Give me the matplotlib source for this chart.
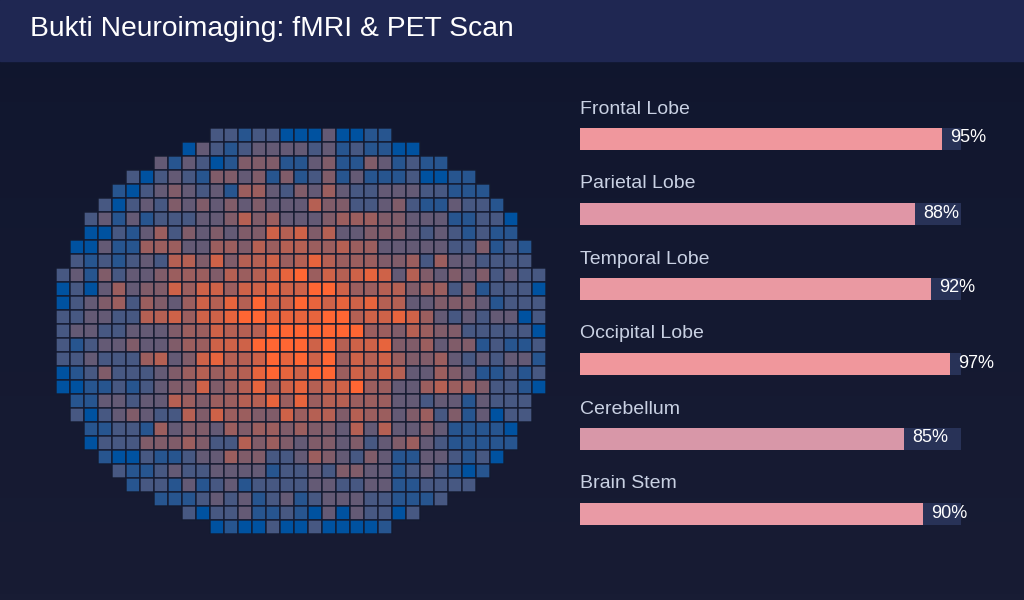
import numpy as np
import matplotlib
matplotlib.use('Agg')
import matplotlib.pyplot as plt
from matplotlib.colors import LinearSegmentedColormap

plt.rcParams['font.family'] = ['Liberation Sans', 'DejaVu Sans']

# Judul
TITLE = 'Bukti Neuroimaging: fMRI & PET Scan'

# Data bar: wilayah otak dan persentase
regions = ['Frontal Lobe', 'Parietal Lobe', 'Temporal Lobe', 'Occipital Lobe', 'Cerebellum', 'Brain Stem']
percent = [95, 88, 92, 97, 85, 90]
bar_colors = ['#f0979d', '#e096a6', '#ea99a2', '#f0979c', '#d897a8', '#e99aa5']

# Data heatmap: kolom awal tiap baris dan intensitas (0-9) per sel
row_start = [11, 9, 7, 5, 4, 3, 2, 2, 1, 1, 0, 0, 0, 0, 0, 0, 0, 0, 0, 1, 1, 2, 2, 3, 4, 5, 7, 9, 11]
rows = [
    '2212200030011',
    '03212333323121100',
    '313201444113411431211',
    '2023214434141241311120011',
    '102343231553243532233322111',
    '20232434343433364422342113221',
    '2313122233464533345554433311220',
    '0021352434344767463344432321211',
    '003115553355465665565533333224121',
    '212123266474667568655544525332222',
    '23142334555465678957678736434342322',
    '02035344757757787799755664552412220',
    '02345254357686977987878663344431222',
    '22332266757789988889967787532323302',
    '23322333455766699999995546544222220',
    '21233433455777999979677844534412112',
    '22322256347866798979576754453232331',
    '01242223456566898799576763354311212',
    '00112123447456857867795533565542210',
    '113323365455668585665553323313222',
    '202343226475544756646553452413022',
    '1122153443545545443636334311110',
    '0222444542264543443423453211111',
    '10021123354422354324311332120',
    '211232233331223244331232101',
    '1221312312222332233112222',
    '111232312312333221112',
    '20223112103032202',
    '0100200200001',
]

NCOL = 35
grid = np.full((len(rows), NCOL), np.nan)
for r, (s, txt) in enumerate(zip(row_start, rows)):
    for i, ch in enumerate(txt):
        grid[r, s + i] = (int(ch) / 9.0) ** 0.85

W, H = 1024, 600
fig = plt.figure(figsize=(W / 100, H / 100), dpi=100)

# Latar belakang gradasi
bg = fig.add_axes([0, 0, 1, 1])
grad = np.linspace(0, 1, 100).reshape(-1, 1)
bg.imshow(grad, aspect='auto', extent=[0, 1, 0, 1],
          cmap=LinearSegmentedColormap.from_list('bg', ['#10162e', '#181c34']))
bg.add_patch(plt.Rectangle((0, 1 - 61 / H), 1, 61 / H, color='#1f2752'))
bg.text(30 / W, 1 - 29 / H, TITLE, color='white', fontsize=20.3, va='center', ha='left')
bg.set_xlim(0, 1)
bg.set_ylim(0, 1)
bg.axis('off')

# Heatmap
cmap = LinearSegmentedColormap.from_list('pet', ['#0052a0', '#ff6633'])
hx = fig.add_axes([56 / W, (H - 534) / H, 490 / W, 406 / H])
hx.pcolor(np.ma.masked_invalid(grid), cmap=cmap, vmin=0, vmax=1,
          edgecolors='#141a30', linewidth=1.0)
hx.set_xlim(0, NCOL)
hx.set_ylim(len(rows), 0)
hx.axis('off')

# Bar persentase
bx = fig.add_axes([580 / W, (H - 540) / H, 381 / W, 450 / H])
bx.set_xlim(0, 100)
bx.set_ylim(540, 90)
bx.axis('off')
for i, (name, p, c) in enumerate(zip(regions, percent, bar_colors)):
    yc = 139 + 75 * i
    bx.barh(yc, 100, height=22, color='#283257')
    bx.barh(yc, p, height=22, color=c)
    bx.text(0, yc - 30, name, color='#c9d1e3', fontsize=14, va='center', ha='left')
    bx.text(p + 2.2, yc - 1, f'{p}%', color='white', fontsize=13, va='center', ha='left')

fig.savefig('out.png', dpi=100)
